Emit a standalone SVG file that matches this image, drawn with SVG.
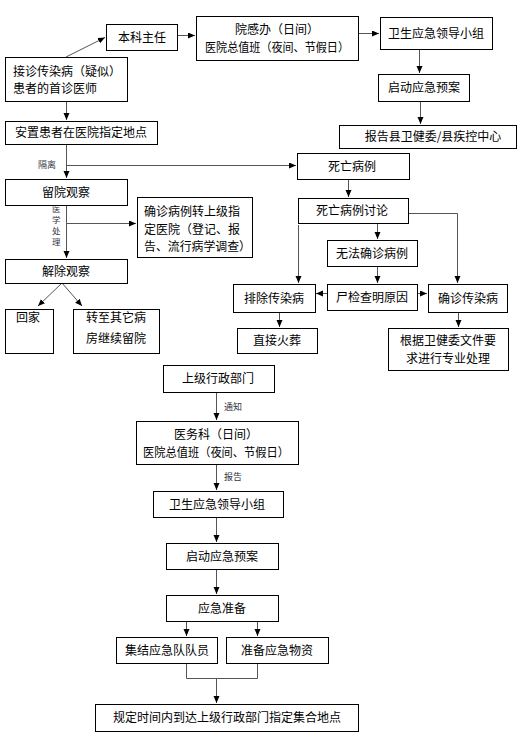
<svg xmlns="http://www.w3.org/2000/svg" width="523" height="736" viewBox="0 0 523 736">
<style>
.b{fill:#fff;stroke:#000;stroke-width:1}
.t{font-family:"Noto Sans CJK SC","Liberation Sans",sans-serif;font-size:12px;fill:#000}
.c{text-anchor:middle}
.l{font-family:"Noto Sans CJK SC","Liberation Sans",sans-serif;font-size:9px;fill:#334}
.v{font-family:"Noto Sans CJK SC","Liberation Sans",sans-serif;font-size:8.5px;fill:#334}
.k{fill:none;stroke:#555;stroke-width:1}
</style>
<defs>
<marker id="a" markerUnits="userSpaceOnUse" markerWidth="8" markerHeight="7" refX="7" refY="3" orient="auto">
<path d="M0,0 L7,3 L0,6 z" fill="#000"/>
</marker>
</defs>
<rect width="523" height="736" fill="#fff"/>
<g id="connectors">
<line class="k" x1="66" y1="57" x2="105" y2="37.5" marker-end="url(#a)"/>
<line class="k" x1="177" y1="35.5" x2="195" y2="35.5" marker-end="url(#a)"/>
<line class="k" x1="358" y1="33.5" x2="379" y2="33.5" marker-end="url(#a)"/>
<line class="k" x1="419.5" y1="49" x2="419.5" y2="73" marker-end="url(#a)"/>
<line class="k" x1="420.5" y1="101" x2="420.5" y2="124" marker-end="url(#a)"/>
<line class="k" x1="66.5" y1="101" x2="66.5" y2="120" marker-end="url(#a)"/>
<line class="k" x1="66.5" y1="144" x2="66.5" y2="178" marker-end="url(#a)"/>
<line class="k" x1="66" y1="165.5" x2="296" y2="165.5" marker-end="url(#a)"/>
<line class="k" x1="66.5" y1="205" x2="66.5" y2="258" marker-end="url(#a)"/>
<line class="k" x1="66" y1="223.5" x2="136" y2="223.5" marker-end="url(#a)"/>
<line class="k" x1="62" y1="283" x2="38" y2="306" marker-end="url(#a)"/>
<line class="k" x1="62" y1="283" x2="82" y2="306" marker-end="url(#a)"/>
<line class="k" x1="348.5" y1="179" x2="348.5" y2="197" marker-end="url(#a)"/>
<line class="k" x1="377.5" y1="223" x2="377.5" y2="239" marker-end="url(#a)"/>
<line class="k" x1="377.5" y1="266" x2="377.5" y2="283" marker-end="url(#a)"/>
<polyline class="k" points="408,213.5 457.5,213.5 457.5,283" marker-end="url(#a)"/>
<line class="k" x1="298.5" y1="225" x2="298.5" y2="283" marker-end="url(#a)"/>
<line class="k" x1="327" y1="293.5" x2="316" y2="293.5" marker-end="url(#a)"/>
<line class="k" x1="417" y1="293.5" x2="427" y2="293.5" marker-end="url(#a)"/>
<line class="k" x1="279.5" y1="312" x2="279.5" y2="327" marker-end="url(#a)"/>
<line class="k" x1="458.5" y1="312" x2="458.5" y2="327" marker-end="url(#a)"/>
<line class="k" x1="216.5" y1="392" x2="216.5" y2="420" marker-end="url(#a)"/>
<line class="k" x1="216.5" y1="464" x2="216.5" y2="490" marker-end="url(#a)"/>
<line class="k" x1="216.5" y1="517" x2="216.5" y2="542" marker-end="url(#a)"/>
<line class="k" x1="216.5" y1="569" x2="216.5" y2="594" marker-end="url(#a)"/>
<line class="k" x1="186.5" y1="621" x2="186.5" y2="636" marker-end="url(#a)"/>
<line class="k" x1="257.5" y1="621" x2="257.5" y2="636" marker-end="url(#a)"/>
<polyline class="k" points="186.5,663 186.5,678.5 257.5,678.5 257.5,663"/>
<line class="k" x1="216.5" y1="678" x2="216.5" y2="703" marker-end="url(#a)"/>
<text class="l" x="38" y="168">隔离</text>
<text class="v" x="52" y="212">医</text>
<text class="v" x="52" y="223">学</text>
<text class="v" x="52" y="234">处</text>
<text class="v" x="52" y="245">理</text>
<text class="l" x="224" y="410">通知</text>
<text class="l" x="224" y="480">报告</text>
</g>
<g id="n1"><rect class="b" x="106.5" y="24.5" width="71" height="26"/><text class="t c" x="142" y="42">本科主任</text></g>
<g id="n2"><rect class="b" x="196.5" y="16.5" width="162" height="44"/><text class="t c" x="277" y="34">院感办（日间）</text><text class="t c" x="277" y="52" textLength="144" lengthAdjust="spacingAndGlyphs">医院总值班（夜间、节假日）</text></g>
<g id="n3"><rect class="b" x="380.5" y="17.5" width="112" height="32"/><text class="t c" x="436" y="38">卫生应急领导小组</text></g>
<g id="n4"><rect class="b" x="378.5" y="74.5" width="91" height="27"/><text class="t c" x="424" y="92">启动应急预案</text></g>
<g id="n5"><rect class="b" x="339.5" y="125.5" width="177" height="23"/><text class="t c" x="433" y="141">报告县卫健委/县疾控中心</text></g>
<g id="n6"><rect class="b" x="5.5" y="57.5" width="122" height="44"/><text class="t" x="13" y="76">接诊传染病（疑似）</text><text class="t" x="13" y="93">患者的首诊医师</text></g>
<g id="n7"><rect class="b" x="5.5" y="121.5" width="152" height="23"/><text class="t c" x="81" y="137">安置患者在医院指定地点</text></g>
<g id="n8"><rect class="b" x="297.5" y="153.5" width="112" height="26"/><text class="t c" x="352" y="171">死亡病例</text></g>
<g id="n9"><rect class="b" x="5.5" y="179.5" width="122" height="26"/><text class="t c" x="66" y="197">留院观察</text></g>
<g id="n10"><rect class="b" x="137.5" y="197.5" width="115" height="60"/><text class="t" x="144" y="216">确诊病例转上级指</text><text class="t" x="144" y="234">定医院（登记、报</text><text class="t" x="144" y="251" textLength="107" lengthAdjust="spacingAndGlyphs">告、流行病学调查）</text></g>
<g id="n11"><rect class="b" x="5.5" y="259.5" width="122" height="24"/><text class="t c" x="66" y="276">解除观察</text></g>
<g id="n12"><rect class="b" x="5.5" y="309.5" width="48" height="44"/><text class="t" x="16" y="322">回家</text></g>
<g id="n13"><rect class="b" x="73.5" y="309.5" width="86" height="44"/><text class="t c" x="116" y="322">转至其它病</text><text class="t c" x="116" y="343">房继续留院</text></g>
<g id="n14"><rect class="b" x="298.5" y="198.5" width="110" height="25"/><text class="t c" x="352" y="215">死亡病例讨论</text></g>
<g id="n15"><rect class="b" x="327.5" y="240.5" width="90" height="26"/><text class="t c" x="372" y="258">无法确诊病例</text></g>
<g id="n16"><rect class="b" x="233.5" y="284.5" width="82" height="28"/><text class="t c" x="274" y="303">排除传染病</text></g>
<g id="n17"><rect class="b" x="327.5" y="284.5" width="90" height="26"/><text class="t c" x="372" y="302">尸检查明原因</text></g>
<g id="n18"><rect class="b" x="428.5" y="284.5" width="79" height="28"/><text class="t c" x="468" y="303">确诊传染病</text></g>
<g id="n19"><rect class="b" x="237.5" y="328.5" width="80" height="25"/><text class="t c" x="277" y="345">直接火葬</text></g>
<g id="n20"><rect class="b" x="388.5" y="328.5" width="120" height="42"/><text class="t c" x="448" y="345">根据卫健委文件要</text><text class="t c" x="448" y="363">求进行专业处理</text></g>
<g id="n21"><rect class="b" x="163.5" y="365.5" width="111" height="27"/><text class="t c" x="218" y="383">上级行政部门</text></g>
<g id="n22"><rect class="b" x="136.5" y="421.5" width="162" height="43"/><text class="t c" x="216" y="439">医务科（日间）</text><text class="t c" x="216" y="457" textLength="146" lengthAdjust="spacingAndGlyphs">医院总值班（夜间、节假日）</text></g>
<g id="n23"><rect class="b" x="153.5" y="491.5" width="130" height="26"/><text class="t c" x="217" y="509">卫生应急领导小组</text></g>
<g id="n24"><rect class="b" x="166.5" y="543.5" width="112" height="26"/><text class="t c" x="222" y="561">启动应急预案</text></g>
<g id="n25"><rect class="b" x="166.5" y="595.5" width="112" height="26"/><text class="t c" x="222" y="613">应急准备</text></g>
<g id="n26"><rect class="b" x="116.5" y="637.5" width="101" height="26"/><text class="t c" x="167" y="655">集结应急队队员</text></g>
<g id="n27"><rect class="b" x="226.5" y="637.5" width="102" height="26"/><text class="t c" x="277" y="655">准备应急物资</text></g>
<g id="n28"><rect class="b" x="95.5" y="704.5" width="263" height="27"/><text class="t c" x="227" y="722">规定时间内到达上级行政部门指定集合地点</text></g>
</svg>
